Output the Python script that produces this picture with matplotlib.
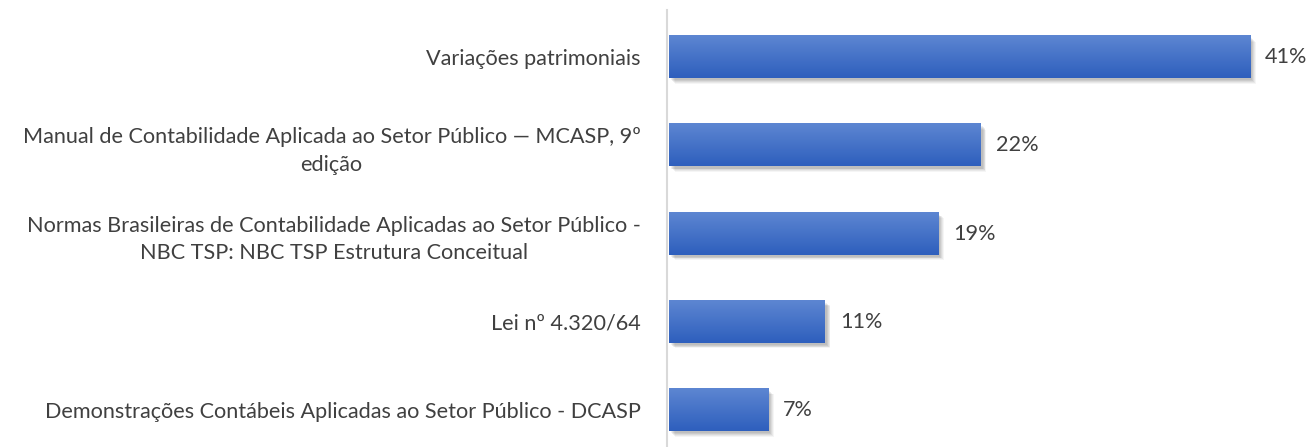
import numpy as np
import matplotlib
matplotlib.use("Agg")
import matplotlib.pyplot as plt
import matplotlib.patheffects as pe
from matplotlib.colors import LinearSegmentedColormap

categories = [
    "Variações patrimoniais",
    "Manual de Contabilidade Aplicada ao Setor Público — MCASP, 9º\nedição",
    "Normas Brasileiras de Contabilidade Aplicadas ao Setor Público -\nNBC TSP: NBC TSP Estrutura Conceitual",
    "Lei nº 4.320/64",
    "Demonstrações Contábeis Aplicadas ao Setor Público - DCASP",
]
values = [41, 22, 19, 11, 7]
value_labels = ["41%", "22%", "19%", "11%", "7%"]

plt.rcParams['font.family'] = ['Lato', 'DejaVu Sans']
text_color = "#404040"
fs = 15.6

W, H = 1308, 447
fig = plt.figure(figsize=(W / 100, H / 100), dpi=100)
ax = fig.add_axes([667 / W, 0, (1305 - 667) / W, 1 - 10 / H])

for s in ['top', 'right', 'bottom']:
    ax.spines[s].set_visible(False)
ax.spines['left'].set_color('#d9d9d9')
ax.spines['left'].set_linewidth(1.5)
ax.spines['left'].set_position(('data', -0.14))

ypos = np.arange(len(values))
bh = 0.477
cmap = LinearSegmentedColormap.from_list("g", ["#5d86d2", "#2e5fbd"])
grad = np.linspace(0, 1, 64).reshape(-1, 1)

bars = ax.barh(ypos, values, height=bh, left=0, color="#3b6cc6", zorder=2)
shadows = []
for k, a in [(5, 0.04), (4, 0.05), (3, 0.06), (2, 0.07), (1, 0.06)]:
    shadows.append(pe.SimplePatchShadow(offset=(k * 0.6 + 1, -(k * 0.6 + 1)),
                                        shadow_rgbFace="#000000", alpha=a))
for b in bars:
    b.set_path_effects(shadows + [pe.Normal()])
for y, v in zip(ypos, values):
    ax.imshow(grad, cmap=cmap, extent=[0, v, y + bh / 2, y - bh / 2], aspect='auto',
              zorder=3, interpolation='bilinear')

for y, v, lab in zip(ypos, values, value_labels):
    ax.annotate(lab, (v, y), xytext=(15, 0), textcoords='offset pixels',
                ha='left', va='center', fontsize=fs, color=text_color)

ax.set_xlim(-0.14, 44.88)
ax.set_ylim(4 + (447 - 410) / 88, -(57 - 10) / 88)
ax.set_xticks([])
ax.set_yticks(ypos)
ax.set_yticklabels(categories, fontsize=fs, color=text_color, multialignment='center',
                   linespacing=1.45)
ax.tick_params(axis='y', length=0, pad=19)

fig.savefig("out.png", dpi=100, facecolor='white')
